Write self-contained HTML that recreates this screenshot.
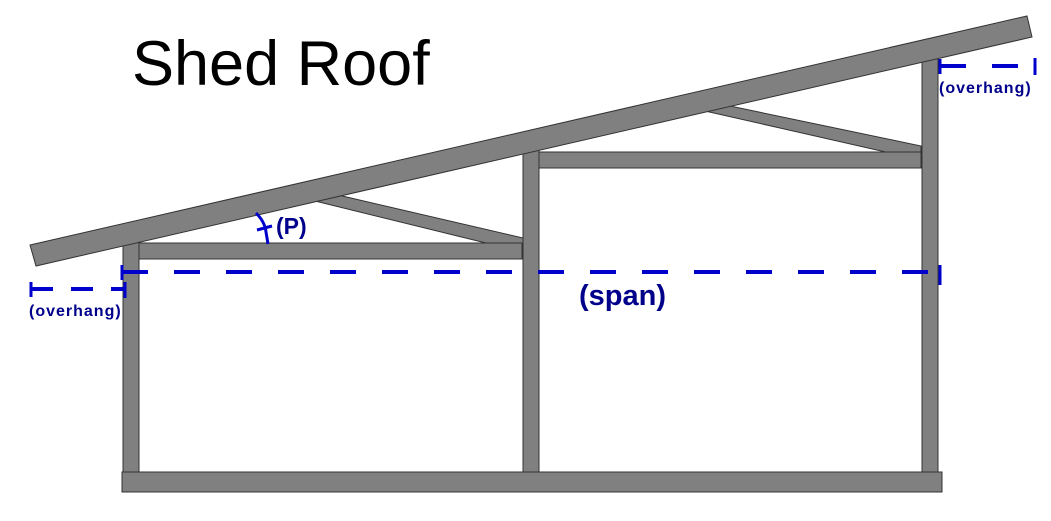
<!DOCTYPE html>
<html><head><style>html,body{margin:0;padding:0;background:#fff;}svg{display:block;}</style></head>
<body>
<svg width="1051" height="521" xmlns="http://www.w3.org/2000/svg" font-family="Liberation Sans, sans-serif">
<rect width="1051" height="521" fill="#fff"/>
<g fill="#808080" stroke="#333" stroke-width="1">
<polygon points="338,195 523,238 523,244 490,244 315,201"/>
<polygon points="730,106 921,146 921,153 890,153 705,111"/>
<rect x="139" y="243" width="383" height="16"/>
<rect x="539" y="152" width="382" height="16"/>
<rect x="123" y="242" width="16" height="230"/>
<rect x="523" y="150" width="16" height="322"/>
<rect x="922" y="58" width="16" height="414"/>
<rect x="122" y="472" width="820" height="20"/>
<polygon points="30,245 1027,16 1032,37 36,266"/>
</g>
<g stroke="#0000cc" stroke-width="4" fill="none">
<line x1="122" y1="272" x2="940" y2="272" stroke-dasharray="26,26"/>
<line x1="122" y1="265" x2="122" y2="280" stroke-width="3"/>
<line x1="940" y1="265" x2="940" y2="285" stroke-width="3"/>
<line x1="31" y1="289" x2="124" y2="289" stroke-dasharray="22,18"/>
<line x1="31" y1="282" x2="31" y2="297" stroke-width="3"/>
<line x1="125" y1="282" x2="125" y2="298" stroke-width="3"/>
<line x1="940" y1="66" x2="1036" y2="66" stroke-dasharray="26,26"/>
<line x1="940" y1="59" x2="940" y2="74" stroke-width="3"/>
<line x1="1035" y1="58" x2="1035" y2="75" stroke-width="3"/>
<path d="M256,213 Q265,222 266,232 L268,244" stroke-width="3"/>
<line x1="257" y1="230" x2="272" y2="226" stroke-width="3"/>
</g>
<g fill="#00008b" font-weight="bold">
<text x="276" y="234" font-size="23">(P)</text>
<text x="579" y="305" font-size="29">(span)</text>
<text x="29" y="316" font-size="16" letter-spacing="1">(overhang)</text>
<text x="939" y="93" font-size="16" letter-spacing="1">(overhang)</text>
</g>
<text x="132" y="85" font-size="63" fill="#000">Shed Roof</text>
</svg>
</body></html>
